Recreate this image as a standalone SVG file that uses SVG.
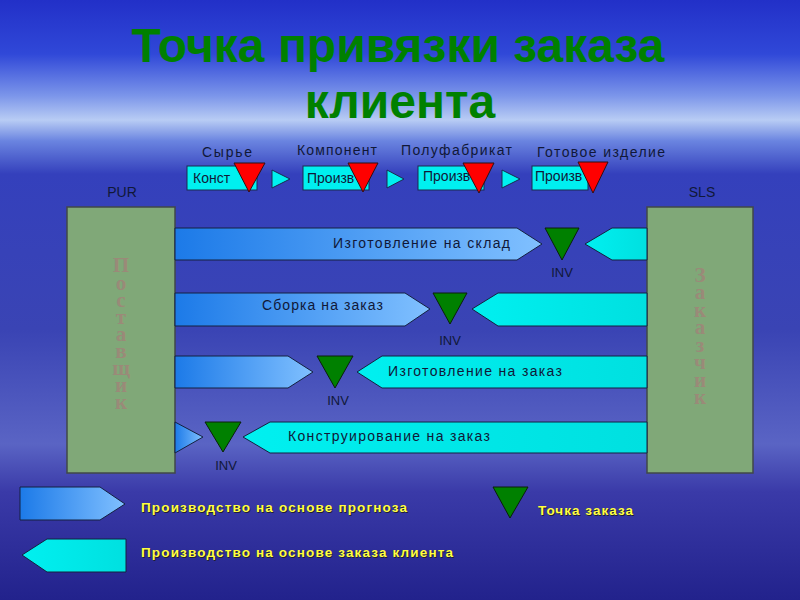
<svg xmlns="http://www.w3.org/2000/svg" width="800" height="600" viewBox="0 0 800 600">
<defs>
<linearGradient id="bg" x1="0" y1="0" x2="0" y2="1">
<stop offset="0" stop-color="#2230c8"/>
<stop offset="0.09" stop-color="#3048d8"/>
<stop offset="0.16" stop-color="#7c96ea"/>
<stop offset="0.2" stop-color="#b8ccf4"/>
<stop offset="0.235" stop-color="#6a84e0"/>
<stop offset="0.29" stop-color="#3440bc"/>
<stop offset="0.55" stop-color="#3a44b4"/>
<stop offset="0.74" stop-color="#5a64c4"/>
<stop offset="0.82" stop-color="#3a3aa8"/>
<stop offset="1" stop-color="#22228c"/>
</linearGradient>
<linearGradient id="blueArr" x1="0" y1="0" x2="1" y2="0">
<stop offset="0" stop-color="#1c7ae8"/>
<stop offset="1" stop-color="#80c0ff"/>
</linearGradient>
<linearGradient id="cyanArr" x1="0" y1="0" x2="1" y2="0">
<stop offset="0" stop-color="#00f0f0"/>
<stop offset="1" stop-color="#00e0e0"/>
</linearGradient>
<style>
.t{font-family:"Liberation Sans",Arial,sans-serif;}
.title{font-size:48px;font-weight:bold;fill:#008000;text-anchor:middle;}
.lbl{font-size:14px;fill:#101838;}
.top{font-size:14px;fill:#101838;}
.box{fill:#00f0f0;stroke:#1a2a50;stroke-width:1;}
.red{fill:#ff0000;stroke:#301010;stroke-width:1;}
.green{fill:#008000;stroke:#0a200a;stroke-width:1;}
.ba{fill:url(#blueArr);stroke:#142040;stroke-width:1;}
.ca{fill:url(#cyanArr);stroke:#142040;stroke-width:1;}
.big{fill:#80a878;stroke:#404848;stroke-width:1.5;}
.vt{font-family:"Liberation Serif","Times New Roman",serif;font-size:21px;font-weight:bold;fill:#9a8a78;text-anchor:middle;}
.inv{font-size:13px;fill:#101838;text-anchor:middle;}
.leg{font-size:13.5px;font-weight:bold;fill:#ffff40;}
.legs{font-size:13.5px;font-weight:bold;fill:#202030;}
</style>
</defs>
<rect x="0" y="0" width="800" height="600" fill="url(#bg)"/>

<g id="title" class="t">
<text class="title t" x="398" y="62">Точка привязки заказа</text>
<text class="title t" x="400" y="118">клиента</text>
</g>

<g id="stage-labels" class="t">
<text class="top t" x="202" y="157" textLength="50">Сырье</text>
<text class="top t" x="297" y="155" textLength="80">Компонент</text>
<text class="top t" x="401" y="155" textLength="111">Полуфабрикат</text>
<text class="top t" x="537" y="157" textLength="128">Готовое изделие</text>
</g>

<g id="stage1">
<rect class="box" x="187" y="166" width="70" height="24"/>
<text class="lbl t" x="193" y="183">Конст</text>
<polygon class="red" points="234,163 265,163 249,192"/>
</g>
<g id="stage2">
<rect class="box" x="303" y="166" width="66" height="24"/>
<text class="lbl t" x="307" y="183">Произв</text>
<polygon class="red" points="348,163 378,163 363,192"/>
</g>
<g id="stage3">
<rect class="box" x="418" y="166" width="66" height="24"/>
<text class="lbl t" x="423" y="181">Произв</text>
<polygon class="red" points="463,163 494,163 479,193"/>
</g>
<g id="stage4">
<rect class="box" x="532" y="166" width="56" height="24"/>
<text class="lbl t" x="535" y="181">Произв</text>
<polygon class="red" points="578,162 608,162 593,193"/>
</g>

<g id="stage-arrows">
<polygon class="box" points="272,170 290,179 272,188"/>
<polygon class="box" points="387,170 404,179 387,188"/>
<polygon class="box" points="502,170 520,179 502,188"/>
</g>

<g id="supplier">
<text class="t top" x="122" y="197" text-anchor="middle">PUR</text>
<rect class="big" x="67" y="207" width="108" height="266"/>
<text class="vt"><tspan x="121" y="272">П</tspan><tspan x="121" y="290">о</tspan><tspan x="121" y="307">с</tspan><tspan x="121" y="324">т</tspan><tspan x="121" y="341">а</tspan><tspan x="121" y="358">в</tspan><tspan x="121" y="375">щ</tspan><tspan x="121" y="392">и</tspan><tspan x="121" y="409">к</tspan></text>
</g>

<g id="customer">
<text class="t top" x="702" y="197" text-anchor="middle">SLS</text>
<rect class="big" x="647" y="207" width="106" height="266"/>
<text class="vt"><tspan x="700" y="282">З</tspan><tspan x="700" y="299">а</tspan><tspan x="700" y="317">к</tspan><tspan x="700" y="334">а</tspan><tspan x="700" y="352">з</tspan><tspan x="700" y="369">ч</tspan><tspan x="700" y="387">и</tspan><tspan x="700" y="404">к</tspan></text>
</g>

<g id="connectors">
<polygon class="ba" points="175,228 517,228 542,244 517,260 175,260"/>
<polygon class="ca" points="647,228 612,228 585,244 612,260 647,260"/>
<polygon class="ba" points="175,293 405,293 430,309 405,326 175,326"/>
<polygon class="ca" points="647,293 498,293 472,309 498,326 647,326"/>
<polygon class="ba" points="175,356 288,356 313,372 288,388 175,388"/>
<polygon class="ca" points="647,356 382,356 357,372 382,388 647,388"/>
<polygon class="ba" points="175,422 203,437 175,453"/>
<polygon class="ca" points="647,422 270,422 243,437 270,453 647,453"/>
</g>

<g id="row-labels" class="t">
<text class="lbl t" x="333" y="248" textLength="177">Изготовление на склад</text>
<text class="lbl t" x="262" y="310" textLength="121">Сборка на заказ</text>
<text class="lbl t" x="388" y="376" textLength="174">Изготовление на заказ</text>
<text class="lbl t" x="288" y="441" textLength="202">Конструирование на заказ</text>
</g>

<g id="inv1"><polygon class="green" points="545,228 579,228 562,260"/><text class="t inv" x="562" y="277">INV</text></g>
<g id="inv2"><polygon class="green" points="433,293 467,293 450,324"/><text class="t inv" x="450" y="345">INV</text></g>
<g id="inv3"><polygon class="green" points="317,356 353,356 335,388"/><text class="t inv" x="338" y="405">INV</text></g>
<g id="inv4"><polygon class="green" points="205,422 241,422 223,452"/><text class="t inv" x="226" y="470">INV</text></g>

<g id="legend" class="t">
<polygon class="ba" points="20,487 100,487 125,504 100,520 20,520"/>
<text class="legs t" x="142" y="513" textLength="266">Производство на основе прогноза</text>
<text class="leg t" x="141" y="512" textLength="266">Производство на основе прогноза</text>
<polygon class="ca" points="126,539 47,539 22,555 47,572 126,572"/>
<text class="legs t" x="142" y="558" textLength="312">Производство на основе заказа клиента</text>
<text class="leg t" x="141" y="557" textLength="312">Производство на основе заказа клиента</text>
<polygon class="green" points="493,487 528,487 510,518"/>
<text class="legs t" x="539" y="516" textLength="95">Точка заказа</text>
<text class="leg t" x="538" y="515" textLength="95">Точка заказа</text>
</g>
</svg>
